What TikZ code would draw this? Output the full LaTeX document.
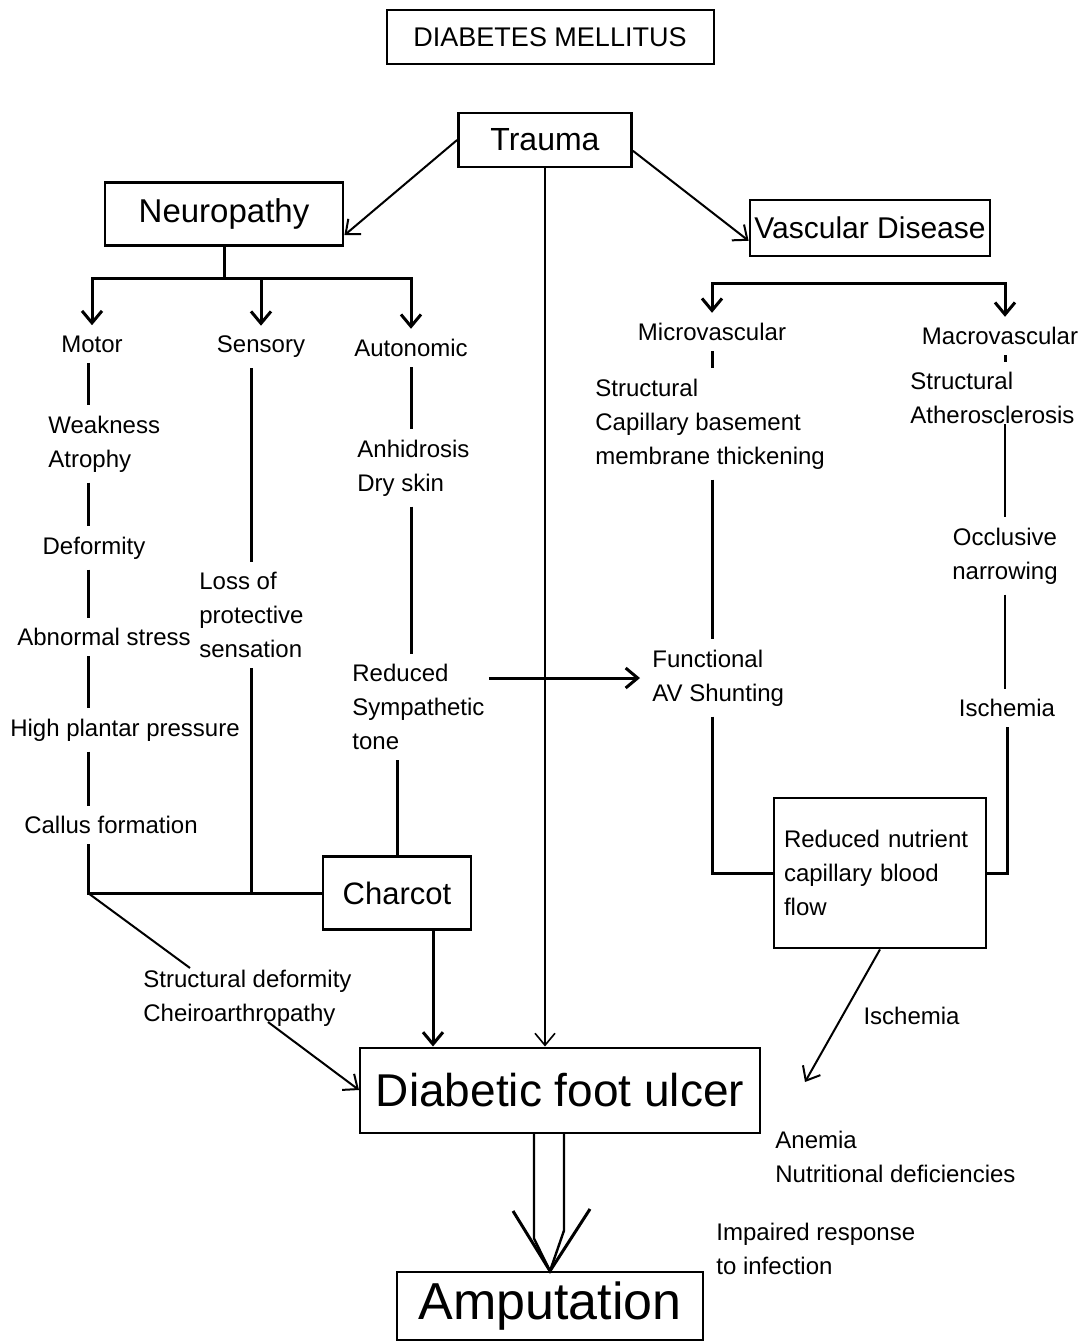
\documentclass[tikz,border=0pt]{standalone}
\usepackage{fontspec}
\setmainfont{Liberation Sans}
\usetikzlibrary{positioning, arrows.meta}

\begin{document}
\begin{tikzpicture}[x=0.5pt, y=-0.5pt]
        % Define styles
        \tikzstyle{block} = [draw, line width=1.4pt, inner sep=0pt, align=center]
        \tikzstyle{txt} = [inner sep=0pt, align=left, font=\fontsize{12}{17}\selectfont]
        \tikzstyle{link} = [line width=1.5pt, shorten <=5pt, shorten >=5pt]
        \tikzstyle{stem} = [line width=1.5pt]
        \tikzstyle{arr} = [-{Straight Barb[length=6pt,width=10pt]}]
        \path[fill=white] (0,0) rectangle (1087,1344);
        % Boxes
        \node[block, line width=1pt, minimum width=163.5pt, minimum height=27pt, font=\fontsize{13.5}{16}\selectfont] (dm) at (550,37) {DIABETES MELLITUS};
        \node[block, minimum width=86.5pt, minimum height=27pt, font=\fontsize{16}{19}\selectfont] (trauma) at (545,140) {Trauma};
        \node[block, minimum width=119pt, minimum height=31.5pt, font=\fontsize{16.5}{20}\selectfont] (neuro) at (224,214) {Neuropathy};
        \node[block, minimum width=120pt, minimum height=28pt, font=\fontsize{15}{18}\selectfont] (vasc) at (870,228) {Vascular Disease};
        \node[block, minimum width=74pt, minimum height=36.5pt, font=\fontsize{15.5}{18}\selectfont] (charcot) at (397,893) {Charcot};
        \node[block, minimum height=75pt, inner xsep=5pt, text width=96pt, align=left, font=\fontsize{12}{17}\selectfont] (nutr) at (880,873) {Reduced nutrient\\capillary blood\\flow};
        \node[block, line width=1pt, minimum width=200pt, minimum height=42.5pt, font=\fontsize{23}{27}\selectfont] (ulcer) at (560,1090) {Diabetic foot ulcer};
        \node[block, line width=1pt, minimum width=153pt, minimum height=34pt, font=\fontsize{26}{30}\selectfont] (amp) at (550,1306) {Amputation};

        % Neuropathy side
        \node[txt] (motor) at (92,344) {Motor};
        \node[txt] (sens) at (261,347) {Sensory};
        \node[txt] (auto) at (411,348) {Autonomic};
        \node[txt, anchor=west] (weak) at (48,444) {Weakness\\Atrophy};
        \node[txt] (deform) at (94,548) {Deformity};
        \node[txt] (abn) at (104,637) {Abnormal stress};
        \node[txt] (high) at (125,730) {High plantar pressure};
        \node[txt] (callus) at (111,825) {Callus formation};
        \node[txt, anchor=west] (loss) at (199,615) {Loss of\\protective\\sensation};
        \node[txt, anchor=west] (anh) at (357,468) {Anhidrosis\\Dry skin};
        \node[txt, anchor=west] (red) at (352,707) {Reduced\\Sympathetic\\tone};
        \node[txt, anchor=west] (sdef) at (143,998) {Structural deformity\\Cheiroarthropathy};

        % Vascular side
        \node[txt] (micro) at (712,332) {Microvascular};
        \node[txt] (macro) at (1000,336) {Macrovascular};
        \node[txt, anchor=west] (struc) at (595,424) {Structural\\Capillary basement\\membrane thickening};
        \node[txt, anchor=west] (athero) at (910,398) {Structural\\Atherosclerosis};
        \node[txt, anchor=west] (func) at (652,678) {Functional\\AV Shunting};
        \node[txt, align=center] (occl) at (1005,556) {Occlusive\\narrowing};
        \node[txt] (isch) at (1007,708) {Ischemia};

        % Side notes
        \node[txt, anchor=west] (anem) at (775,1157) {Anemia\\Nutritional deficiencies};
        \node[txt, anchor=west] (impair) at (716,1249) {Impaired response\\to infection};

        % Joints
        \coordinate (nsplit) at (224,278);
        \coordinate (vsplit) at (860,283);
        \coordinate (mj) at (88,893);
        \coordinate (sdtop) at (190,968);
        \coordinate (sdbot) at (268,1022);
        \coordinate (ischtip) at (805,1082);

        % Trauma arrows
        \draw[arr, line width=1pt] (trauma.west) -- (neuro.-10);
        \draw[arr, line width=1pt] (trauma.-7) -- (vasc.-174);
        \draw[arr, line width=0.8pt] (trauma.south) -- (trauma.south |- ulcer.north);

        % Branches
        \draw[stem] (neuro.south) -- (nsplit);
        \draw[stem, arr, shorten >=5pt] (nsplit) -| (motor.north);
        \draw[stem, arr, shorten >=5pt] (nsplit) -| (sens.north);
        \draw[stem, arr, shorten >=5pt] (nsplit) -| (auto.north);
        \draw[stem, arr, shorten >=5pt] (vsplit) -| (micro.north);
        \draw[stem, arr, shorten >=5pt] (vsplit) -| (macro.north -| occl.north);

        % Motor column
        \draw[link] (motor.south -| mj) -- (weak.north -| mj);
        \draw[link] (weak.south -| mj) -- (deform.north -| mj);
        \draw[link] (deform.south -| mj) -- (abn.north -| mj);
        \draw[link] (abn.south -| mj) -- (high.north -| mj);
        \draw[link] (high.south -| mj) -- (callus.north -| mj);
        \draw[stem, shorten <=5pt] (callus.south -| mj) -- (mj) -- (charcot.west);
        \draw[line width=1pt] (mj) -- (sdtop);
        \draw[arr, line width=1pt] (sdbot) -- (ulcer.west);

        % Sensory column
        \draw[link] (sens.south -| loss.north) -- (loss.north);
        \draw[stem, shorten <=5pt] (loss.south) -- (loss.south |- mj);

        % Autonomic column
        \draw[link] (auto.south) -- (auto.south |- anh.north);
        \draw[link] (auto.south |- anh.south) -- (auto.south |- red.north);
        \draw[stem, shorten <=5pt] (charcot.north |- red.south) -- (charcot.north);
        \draw[stem, arr, shorten <=2pt, shorten >=6pt] (red.east |- func.west) -- (func.west);
        \draw[stem, arr] ([xshift=18pt]charcot.south) -- ([xshift=18pt]charcot.south |- ulcer.north);

        % Microvascular column
        \draw[link] (micro.south) -- (micro.south |- struc.north);
        \draw[link] (struc.south -| micro.south) -- (micro.south |- func.north);
        \draw[stem, shorten <=5pt] (func.south -| micro.south) -- (micro.south |- nutr.west) -- (nutr.west);

        % Macrovascular column
        \draw[link] (macro.south -| occl.north) -- (athero.north -| occl.north);
        \draw[line width=1pt, shorten >=5pt] (athero.south -| occl.north) -- (occl.north);
        \draw[link, line width=1pt] (occl.south) -- (occl.south |- isch.north);
        \draw[stem, shorten <=5pt] (isch.south) -- (isch.south |- nutr.east) -- (nutr.east);
        \draw[arr, line width=1pt] (nutr.south) -- (ischtip) node[txt, pos=0.5, anchor=west, xshift=10pt] {Ischemia};

        % Ulcer to amputation
        \draw[line width=1.2pt] ([xshift=-8pt]amp.north |- ulcer.south) -- ++(0,105) -- (amp.north);
        \draw[line width=1.2pt] ([xshift=7pt]amp.north |- ulcer.south) -- ++(0,97) -- (amp.north);
        \draw[line width=1.5pt] ([shift={(-37,-60)}]amp.north) -- (amp.north) -- ([shift={(40,-62)}]amp.north);
\end{tikzpicture}
\end{document}
